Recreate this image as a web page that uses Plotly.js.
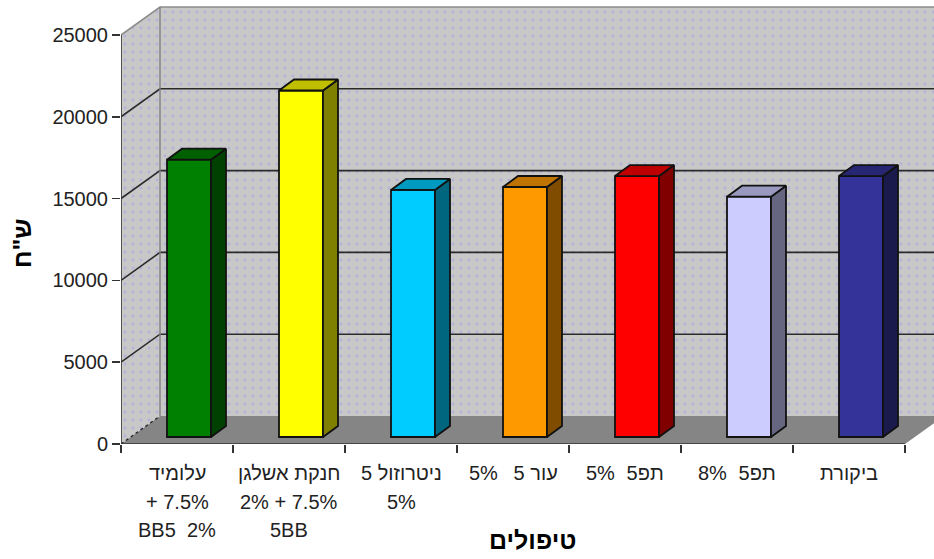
<!DOCTYPE html>
<html><head><meta charset="utf-8">
<script src="https://cdn.plot.ly/plotly-3.0.1.min.js"></script>
<style>html,body{margin:0;padding:0;background:#fff;overflow:hidden}</style>
</head><body><div id="chart" style="width:934px;height:559px"></div>
<script>
const RLE='\u202B', PDF='\u202C', NB='\u00a0';
const categories=['עלומיד','חנקת אשלגן','ניטרוזול 5','עור 5 5%','תפ5 5%','תפ5 8%','ביקורת'];
const values=[16950,21180,15100,15280,15950,14690,15950];
const labelLine1=['עלומיד','חנקת אשלגן',RLE+'ניטרוזול 5'+PDF,RLE+'עור 5\u2002\u2009\u200A5%'+PDF,RLE+'תפ5\u2002\u200A5%'+PDF,RLE+'תפ5\u2002\u200A8%'+PDF,'ביקורת'];
const labelLine2=['+ 7.5%','2% + 7.5%','5%','','','',''];
const labelLine3=['BB5'+NB+NB+'2%','5BB','','','','',''];
const frontColors=['#008000','#ffff00','#00ccff','#ff9900','#ff0000','#ccccff','#333399'];
const sideColors=['#004000','#808000','#006680','#804d00','#800000','#666680','#1a1a4d'];
const topColors=['#006000','#bfbf00','#0099bf','#bf7300','#bf0000','#9999bf','#262673'];
const yTicks=[0,5000,10000,15000,20000,25000];
const xBoundaries=[-0.5,0.5,1.5,2.5,3.5,4.5,5.5,6.5];
const xTitle='טיפולים', yTitle='ש"ח';

const W=934,H=559,L=121,B=115,plotW=W-L,plotH=H-B;
const pxX=112, pxY=81.8/5000;
const xMax=-0.5+plotW/pxX, yMax=plotH/pxY;
const wallDX=39/pxX, wallDY=28/pxY;
const barDX=15/pxX, barDY=11/pxY;
const barShift=12/pxX, barBase=7/pxY, barW=44/pxX;
const font='"Liberation Sans", Arial, sans-serif';

const pattern={shape:'.',fgcolor:'#b4b4d6',bgcolor:'#c8c8c8',size:8,solidity:0.1};
const poly=(x,y,extra)=>Object.assign({type:'scatter',mode:'lines',x,y,fill:'toself',hoverinfo:'skip',showlegend:false},extra);
const farRight=xMax+1;
const traces=[];
// back wall, side wall, floor
traces.push(poly([-0.5+wallDX,farRight,farRight,-0.5+wallDX,-0.5+wallDX],[wallDY,wallDY,25000+wallDY,25000+wallDY,wallDY],
  {fillcolor:'#c8c8c8',fillpattern:pattern,line:{width:0}}));
traces.push(poly([-0.5,-0.5+wallDX,-0.5+wallDX,-0.5,-0.5],[0,wallDY,25000+wallDY,25000,0],
  {fillcolor:'#c8c8c8',fillpattern:pattern,line:{width:0}}));
traces.push(poly([-0.5,6.5,6.5+wallDX,-0.5+wallDX,-0.5],[0,0,wallDY,wallDY,0],
  {fillcolor:'#858585',line:{width:0}}));
// grid lines on the walls
const gx=[],gy=[];
yTicks.slice(1,5).forEach(v=>{gx.push(-0.5,-0.5+wallDX,farRight,null);gy.push(v,v+wallDY,v+wallDY,null);});
traces.push({type:'scatter',mode:'lines',x:gx,y:gy,line:{color:'#2a2a2a',width:1.6},hoverinfo:'skip',showlegend:false});
traces.push({type:'scatter',mode:'lines',x:[-0.5,-0.5+wallDX,farRight],y:[25000,25000+wallDY,25000+wallDY],line:{color:'#8c8c8c',width:1.6},hoverinfo:'skip',showlegend:false});
traces.push({type:'scatter',mode:'lines',x:[-0.5+wallDX,-0.5+wallDX],y:[wallDY,25000+wallDY],line:{color:'#808080',width:1.4},hoverinfo:'skip',showlegend:false});
traces.push({type:'scatter',mode:'lines',x:[-0.5,-0.5+wallDX],y:[0,wallDY],line:{color:'#222',width:1.4,dash:'dot'},hoverinfo:'skip',showlegend:false});
// bars (front faces)
traces.push({type:'bar',xaxis:'x2',yaxis:'y2',x:categories.map((c,i)=>i+barShift),y:values,base:values.map(()=>barBase),width:barW,
  marker:{color:frontColors,line:{color:'#111',width:1.8}},hoverinfo:'skip',showlegend:false});
// side and top faces
values.forEach((v,i)=>{
  const x0=i+barShift-barW/2,x1=i+barShift+barW/2,y0=barBase,y1=barBase+v;
  traces.push(poly([x1,x1+barDX,x1+barDX,x1,x1],[y0,y0+barDY,y1+barDY,y1,y0],
    {xaxis:'x2',yaxis:'y2',fillcolor:sideColors[i],line:{color:'#111',width:1.8}}));
  traces.push(poly([x0,x0+barDX,x1+barDX,x1,x0],[y1,y1+barDY,y1+barDY,y1,y1],
    {xaxis:'x2',yaxis:'y2',fillcolor:topColors[i],line:{color:'#111',width:1.8}}));
});
// axis lines
traces.push({type:'scatter',mode:'lines',xaxis:'x2',yaxis:'y2',x:[-0.5,-0.5,null,-0.5,6.5],y:[25000,0,null,0,0],
  line:{color:'#333',width:1.6},hoverinfo:'skip',showlegend:false,cliponaxis:false});

const annotations=[];
[labelLine1,labelLine2,labelLine3].forEach((line,k)=>{
  const py=[473,501.5,530][k];
  line.forEach((t,i)=>{ if(t) annotations.push({xref:'x',yref:'paper',x:i,y:(plotH-py)/plotH,text:t,showarrow:false,
    xanchor:'center',yanchor:'middle',font:{family:font,size:20,color:'#222'}});});
});
annotations.push({xref:'paper',yref:'paper',x:(532-L)/plotW,y:(plotH-540)/plotH,text:'<b>'+xTitle+'</b>',showarrow:false,xanchor:'center',yanchor:'middle',font:{family:font,size:25,color:'#000'}});
annotations.push({xref:'paper',yref:'paper',x:(22-L)/plotW,y:(plotH-243)/plotH,text:'<b>'+yTitle+'</b>',showarrow:false,textangle:-90,xanchor:'center',yanchor:'middle',font:{family:font,size:25,color:'#000'}});

const layout={
  width:W,height:H,margin:{l:L,r:0,t:0,b:B,pad:0},
  paper_bgcolor:'#fff',plot_bgcolor:'#fff',showlegend:false,barmode:'overlay',
  xaxis:{range:[-0.5,xMax],showgrid:false,zeroline:false,showline:false,showticklabels:false,ticks:'',fixedrange:true},
  yaxis:{range:[0,yMax],showgrid:false,zeroline:false,showline:false,tickmode:'array',tickvals:yTicks,ticktext:yTicks.map(String),
    ticks:'outside',ticklen:8,tickwidth:1.5,tickcolor:'#333',tickfont:{family:font,size:20,color:'#222'},fixedrange:true},
  xaxis2:{overlaying:'x',anchor:'y2',range:[-0.5,xMax],showgrid:false,zeroline:false,showline:false,tickmode:'array',tickvals:xBoundaries,
    ticks:'outside',ticklen:8,tickwidth:1.5,tickcolor:'#333',showticklabels:false,fixedrange:true},
  yaxis2:{overlaying:'y',anchor:'x2',range:[0,yMax],showgrid:false,zeroline:false,showline:false,showticklabels:false,ticks:'',fixedrange:true},
  annotations
};
Plotly.newPlot('chart',traces,layout,{staticPlot:true,displayModeBar:false});
</script></body></html>
